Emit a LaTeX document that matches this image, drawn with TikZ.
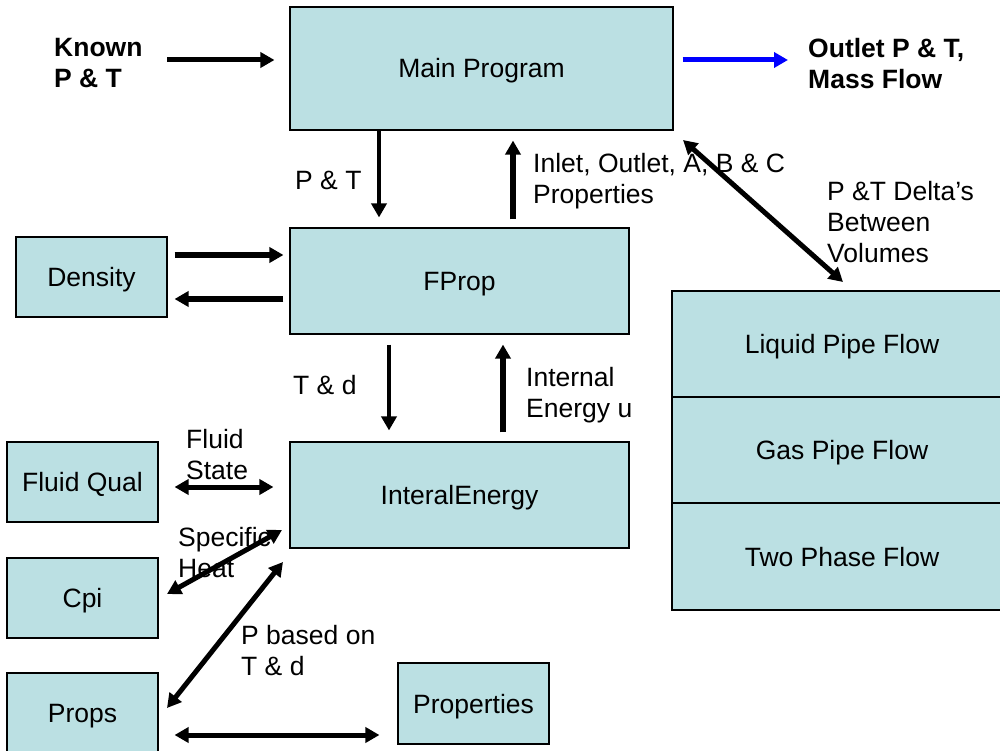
\documentclass[tikz,border=0pt]{standalone}
\usepackage{fontspec}
\setmainfont{Liberation Sans}
\usetikzlibrary{arrows.meta}
\definecolor{boxfill}{RGB}{187,224,227}
\newcommand\diagfont{\fontsize{26.5}{31}\selectfont}
\begin{document}
\begin{tikzpicture}[x=1pt,y=-1pt,
  box/.style={draw=black,line width=1.1pt,fill=boxfill,inner sep=0pt,
    text height=19pt,text depth=0pt,font=\diagfont},
  lbl/.style={inner sep=0pt,anchor=west,align=left,font=\diagfont},
  boldlbl/.style={lbl,font=\diagfont\bfseries},
  tip/.tip={Triangle[length=14pt 0 0,width=15pt 0 0]},
  flow/.style={line width=5pt,-tip},
  both/.style={line width=5pt,tip-tip}]
\useasboundingbox (0,0) rectangle (1000,751);
\clip (0,0) rectangle (1000,751);

% program blocks
\node[box,minimum width=383pt,minimum height=123pt] (main)   at (481.5,68.5) {Main Program};
\node[box,minimum width=339pt,minimum height=106pt] (fprop)  at (459.5,281)  {FProp};
\node[box,minimum width=339pt,minimum height=106pt] (energy) at (459.5,495)  {InteralEnergy};
\node[box,minimum width=151pt,minimum height=80pt]  (dens)   at (91.5,277)   {Density};
\node[box,minimum width=151pt,minimum height=80pt]  (fqual)  at (82.5,482)   {Fluid Qual};
\node[box,minimum width=151pt,minimum height=80pt]  (cpi)    at (82.5,598)   {Cpi};
\node[box,minimum width=151pt,minimum height=80pt]  (props)  at (82.5,713)   {Props};
\node[box,minimum width=151pt,minimum height=81pt]  (propts) at (473.5,703.5) {Properties};

% pipe flow stack
\node[box,minimum width=340pt,minimum height=106pt] (liq) at (842,344)   {Liquid Pipe Flow};
\node[box,minimum width=340pt,minimum height=106pt] (gas) at (842,450)   {Gas Pipe Flow};
\node[box,minimum width=340pt,minimum height=107pt] (two) at (842,556.5) {Two Phase Flow};

% labels
\node[boldlbl] (known)  at (54,63.5)  {Known\\P \& T};
\node[boldlbl] (outlet) at (808,63.5) {Outlet P \& T,\\Mass Flow};
\node[lbl] (lpt)    at (295,180)   {P \& T};
\node[lbl] (linlet) at (533,181)   {Inlet, Outlet, A, B \& C\\Properties};
\node[lbl] (ldelta) at (827,222) {P \&T Delta’s\\Between\\Volumes};
\node[lbl] (ltd)    at (293,385)   {T \& d};
\node[lbl] (lint)   at (526,395) {Internal\\Energy u};
\node[lbl] (lstate) at (186,455) {Fluid\\State};
\node[lbl] (lheat)  at (178,553) {Specific\\Heat};
\node[lbl] (lbased) at (241,651) {P based on\\T \& d};

% connector guide points
\coordinate (kin)  at (167,60);
\coordinate (bout) at (788,60);
\coordinate (xa) at (379,0);
\coordinate (xb) at (513,0);
\coordinate (xc) at (389,0);
\coordinate (xd) at (503,0);
\coordinate (ya) at (0,255);
\coordinate (yb) at (0,299);
\coordinate (yc) at (0,487);
\coordinate (yd) at (0,735);
\coordinate (d1) at (683,140);
\coordinate (d2) at (843,282);
\coordinate (s1) at (167,594);
\coordinate (s2) at (282,530);
\coordinate (p1) at (167,708);
\coordinate (p2) at (283,562);

% data flow
\draw[flow,shorten >=15pt] (kin) -- (main.west |- kin);
\draw[flow,blue,shorten <=9pt] (main.east |- bout) -- (bout);
\draw[flow,line width=4.5pt,shorten >=10pt] (main.south -| xa) -- (fprop.north -| xa);
\draw[flow,line width=5.5pt,shorten <=8pt,shorten >=10pt] (fprop.north -| xb) -- (main.south -| xb);
\draw[flow,line width=4.5pt,shorten <=10pt,shorten >=11pt] (fprop.south -| xc) -- (energy.north -| xc);
\draw[flow,line width=5.5pt,shorten <=9pt,shorten >=10pt] (energy.north -| xd) -- (fprop.south -| xd);
\draw[flow,line width=5.5pt,shorten <=7pt,shorten >=6pt] (dens.east |- ya) -- (fprop.west |- ya);
\draw[flow,line width=5.5pt,shorten <=6pt,shorten >=7pt] (fprop.west |- yb) -- (dens.east |- yb);
\draw[both] (d1) -- (d2);
\draw[both,shorten <=16pt,shorten >=16pt] (fqual.east |- yc) -- (energy.west |- yc);
\draw[both] (s1) -- (s2);
\draw[both] (p1) -- (p2);
\draw[both,shorten <=16pt,shorten >=18pt] (props.east |- yd) -- (propts.west |- yd);
\end{tikzpicture}
\end{document}
